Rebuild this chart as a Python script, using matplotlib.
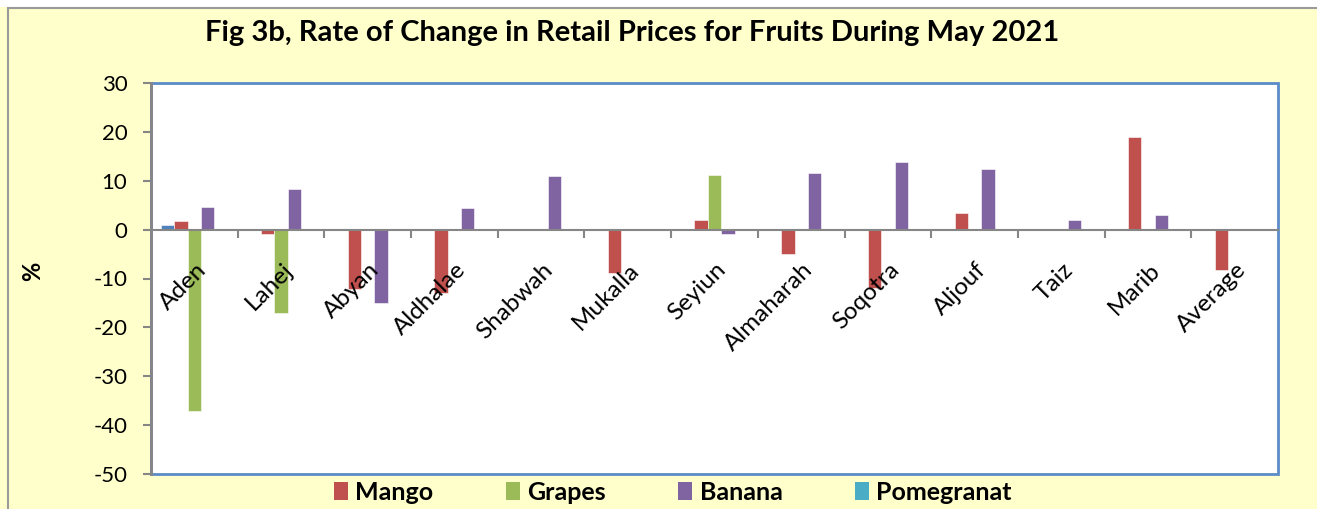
import numpy as np
import matplotlib
matplotlib.use("Agg")
import matplotlib.pyplot as plt
from matplotlib.patches import Rectangle, Patch

plt.rcParams['font.family'] = ['Lato', 'DejaVu Sans']
plt.rcParams['axes.unicode_minus'] = False

# data (percent change)
regions = ['Aden', 'Lahej', 'Abyan', 'Aldhalae', 'Shabwah', 'Mukalla', 'Seyiun',
           'Almaharah', 'Soqotra', 'Aljouf', 'Taiz', 'Marib', 'Average']
series0 = [1.0, 0, 0, 0, 0, 0, 0, 0, 0, 0, 0, 0, 0]  # unnamed first series, not in legend
mango = [1.8, -0.8, -12.1, -12.9, 0, -8.8, 2.0, -4.9, -12.0, 3.3, 0, 18.9, -8.2]
grapes = [-37.2, -17.0, 0, 0, 0, 0, 11.1, 0, 0, 0, 0, 0, 0]
banana = [4.7, 8.3, -15.1, 4.5, 11.0, 0, -0.8, 11.6, 13.8, 12.4, 1.9, 2.9, 0]
pomegranat = [0, 0, 0, 0, 0, 0, 0, 0, 0, 0, 0, 0, 0]

names = [None, 'Mango', 'Grapes', 'Banana', 'Pomegranat']
colors = ['#4F81BD', '#C0504D', '#9BBB59', '#8064A2', '#4BACC6']
allvals = [series0, mango, grapes, banana, pomegranat]

bg = '#FFFFCC'
fig = plt.figure(figsize=(13.17, 5.09), dpi=100, facecolor=bg)
W, H = 1317, 509
ax = fig.add_axes([151 / W, 1 - 474 / H, (1278 - 151) / W, (474 - 83) / H])
ax.set_facecolor('white')

x = np.arange(len(regions))
bw = 0.154
for k in range(5):
    ax.bar(x + (k - 2) * bw, allvals[k], width=bw, color=colors[k],
           edgecolor='white', linewidth=0.4, zorder=3)

ax.set_xlim(-0.5, len(regions) - 0.5)
ax.set_ylim(-50, 30)
ax.set_yticks(range(-50, 31, 10))
ax.tick_params(axis='y', length=6, width=1.5, color='#868686', labelsize=16, pad=11)

# category axis sits on the zero line
ax.spines['bottom'].set_position(('data', 0))
ax.spines['bottom'].set_color('#868686')
ax.spines['bottom'].set_linewidth(1.5)
ax.spines['bottom'].set_zorder(4)
ax.spines['left'].set_color('#868686')
ax.spines['left'].set_linewidth(2)
ax.spines['left'].set_zorder(5)
ax.spines['top'].set_visible(False)
ax.spines['right'].set_visible(False)
ax.set_xticks(np.arange(0.5, len(regions) - 1, 1.0))
ax.set_xticklabels([])
ax.tick_params(axis='x', length=6, width=1.5, color='#868686', direction='out')

ax.add_patch(Rectangle((0, 0), 1, 1, transform=ax.transAxes, fill=False,
                       edgecolor='#5B8BC9', linewidth=2, zorder=2, clip_on=False))

for i, name in enumerate(regions):
    ax.text(i + 0.01, -6.0, name, rotation=45, ha='right', va='top',
            rotation_mode='anchor', fontsize=17.5, zorder=6)

fig.text(33 / W, 1 - 271 / H, '%', rotation=90, ha='center', va='center',
         fontsize=17, fontweight='bold')

fig.text(0.48, 0.935, 'Fig 3b, Rate of Change in Retail Prices for Fruits During May 2021',
         ha='center', va='center', fontsize=21, fontweight='bold')

handles = [Patch(facecolor=colors[k], label=names[k]) for k in range(1, 5)]
fig.legend(handles=handles, loc='center', bbox_to_anchor=(0.511, 0.033), ncol=4,
           frameon=False, prop={'weight': 'bold', 'size': 18}, handlelength=0.55,
           handleheight=0.7, handletextpad=0.3, columnspacing=2.9)

# outer chart border (top and left)
fig.add_artist(plt.Line2D([8 / W, 1], [1 - 7.5 / H, 1 - 7.5 / H], color='#9A9A9A', lw=1.5))
fig.add_artist(plt.Line2D([8 / W, 8 / W], [0, 1 - 7.5 / H], color='#9A9A9A', lw=1.5))
fig.add_artist(Rectangle((0, 1 - 7 / H), 1, 7 / H, transform=fig.transFigure,
                         facecolor='white', edgecolor='none'))

fig.savefig('out.png', dpi=100, facecolor=bg)
